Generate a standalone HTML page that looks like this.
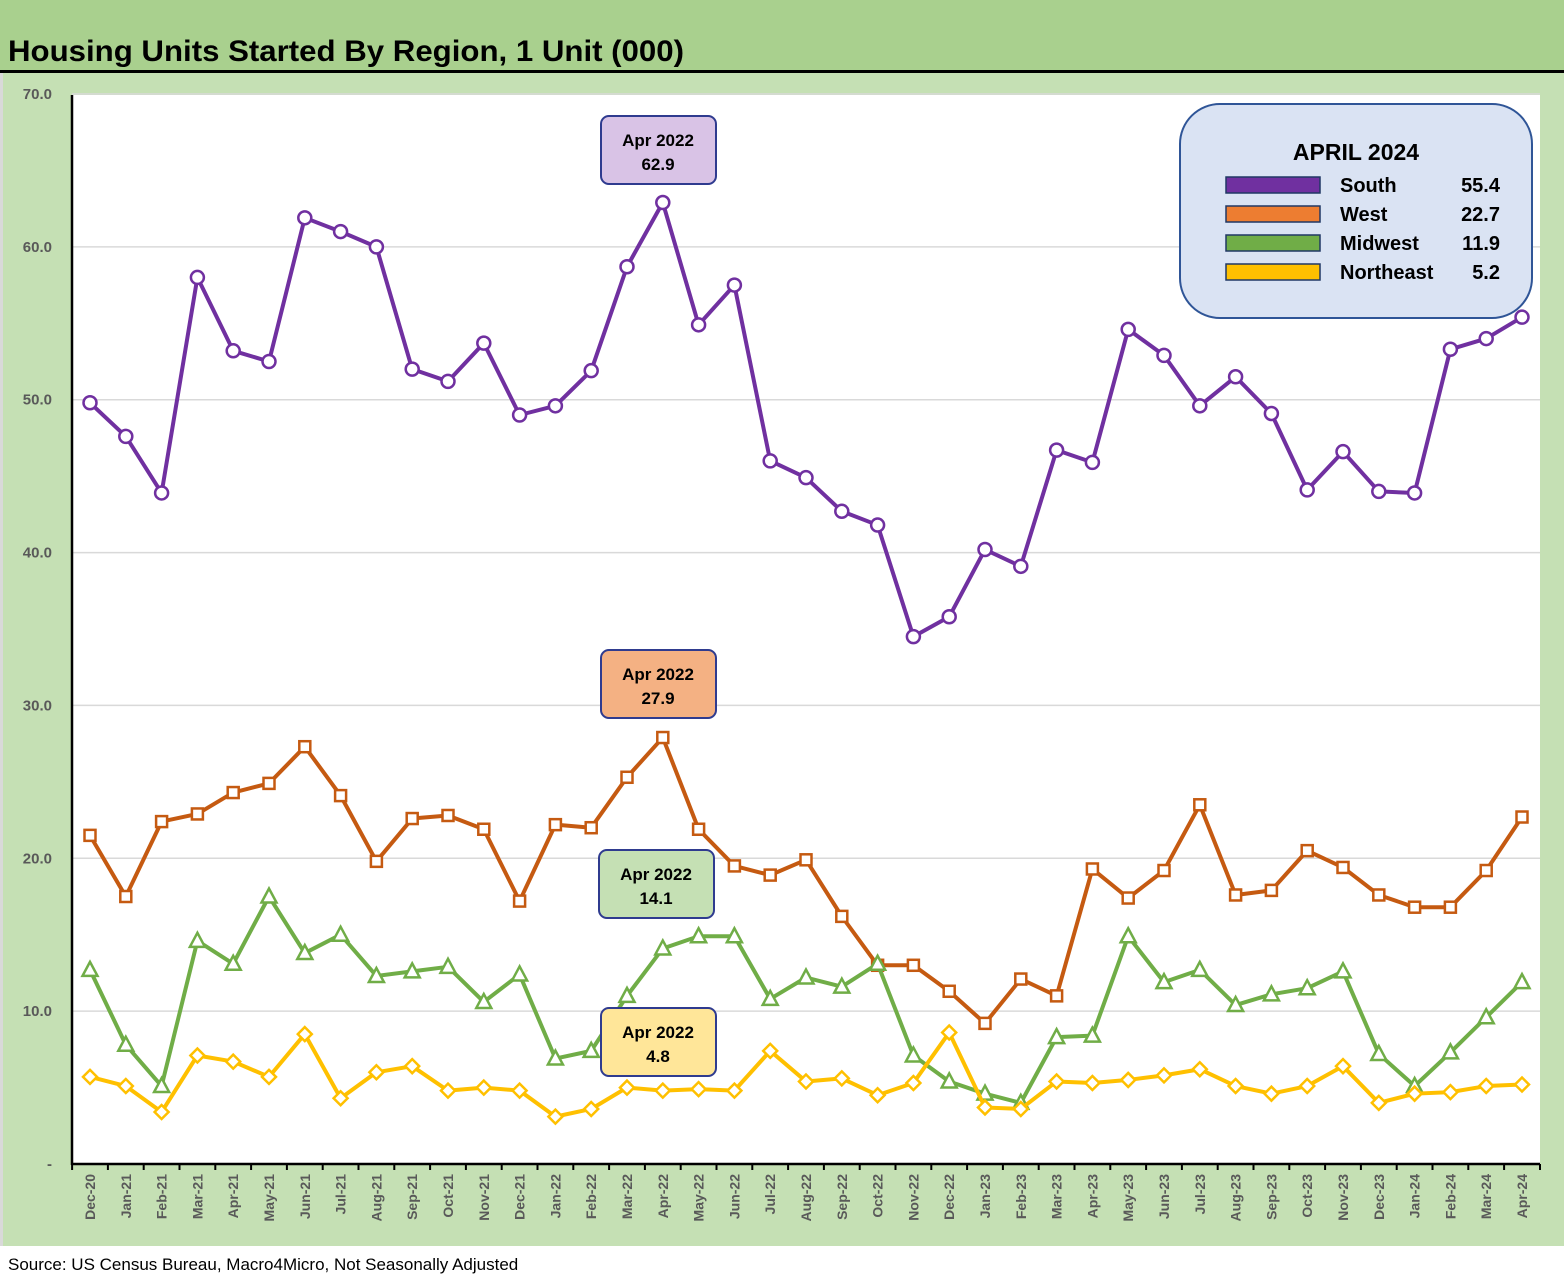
<!DOCTYPE html>
<html><head><meta charset="utf-8"><style>
body{margin:0;width:1564px;height:1280px;background:#fff;font-family:"Liberation Sans",sans-serif;overflow:hidden}
</style></head><body>
<svg width="1564" height="1280" xmlns="http://www.w3.org/2000/svg" font-family="Liberation Sans, sans-serif">
<rect x="0" y="0" width="1564" height="1246" fill="#c5e0b4"/>
<rect x="0" y="0" width="1564" height="70" fill="#a9d08e"/>
<rect x="0" y="70" width="1564" height="3" fill="#000"/>
<rect x="0" y="73" width="3" height="1173" fill="#d9d9d9"/>
<text x="8" y="61" font-size="30" font-weight="bold" fill="#000" textLength="676" lengthAdjust="spacingAndGlyphs">Housing Units Started By Region, 1 Unit (000)</text>
<rect x="72" y="95" width="1468" height="1069" fill="#fff"/>
<g id="grid"></g><g id="series"></g><g id="axes"></g>
<g>
<rect x="1180" y="104" width="352" height="214" rx="40" fill="#dae3f3" stroke="#2f5597" stroke-width="2"/>
<text x="1356" y="160" font-size="23" font-weight="bold" text-anchor="middle">APRIL 2024</text>
</g>
<g id="legend-entries"></g>
<g id="callouts"></g>
<text x="8" y="1270" font-size="17" fill="#000">Source: US Census Bureau, Macro4Micro, Not Seasonally Adjusted</text>
</svg>
<script>
const categories=["Dec-20","Jan-21","Feb-21","Mar-21","Apr-21","May-21","Jun-21","Jul-21","Aug-21","Sep-21","Oct-21","Nov-21","Dec-21","Jan-22","Feb-22","Mar-22","Apr-22","May-22","Jun-22","Jul-22","Aug-22","Sep-22","Oct-22","Nov-22","Dec-22","Jan-23","Feb-23","Mar-23","Apr-23","May-23","Jun-23","Jul-23","Aug-23","Sep-23","Oct-23","Nov-23","Dec-23","Jan-24","Feb-24","Mar-24","Apr-24"];
const south=[49.8,47.6,43.9,58.0,53.2,52.5,61.9,61.0,60.0,52.0,51.2,53.7,49.0,49.6,51.9,58.7,62.9,54.9,57.5,46.0,44.9,42.7,41.8,34.5,35.8,40.2,39.1,46.7,45.9,54.6,52.9,49.6,51.5,49.1,44.1,46.6,44.0,43.9,53.3,54.0,55.4];
const west=[21.5,17.5,22.4,22.9,24.3,24.9,27.3,24.1,19.8,22.6,22.8,21.9,17.2,22.2,22.0,25.3,27.9,21.9,19.5,18.9,19.9,16.2,13.0,13.0,11.3,9.2,12.1,11.0,19.3,17.4,19.2,23.5,17.6,17.9,20.5,19.4,17.6,16.8,16.8,19.2,22.7];
const midwest=[12.7,7.8,5.1,14.6,13.1,17.5,13.8,15.0,12.3,12.6,12.9,10.6,12.4,6.9,7.4,11.0,14.1,14.9,14.9,10.8,12.2,11.6,13.1,7.1,5.4,4.6,4.0,8.3,8.4,14.9,11.9,12.7,10.4,11.1,11.5,12.6,7.2,5.1,7.3,9.6,11.9];
const northeast=[5.7,5.1,3.4,7.1,6.7,5.7,8.5,4.3,6.0,6.4,4.8,5.0,4.8,3.1,3.6,5.0,4.8,4.9,4.8,7.4,5.4,5.6,4.5,5.3,8.6,3.7,3.6,5.4,5.3,5.5,5.8,6.2,5.1,4.6,5.1,6.4,4.0,4.6,4.7,5.1,5.2];
const yTicks=[0,10,20,30,40,50,60,70];
const yTickLabels=["-","10.0","20.0","30.0","40.0","50.0","60.0","70.0"];
const NS="http://www.w3.org/2000/svg";
const x0=90,x1=1522,yB=1164,yT=94;
const xs=i=>x0+i*(x1-x0)/(categories.length-1);
const ys=v=>yB-(v/70)*(yB-yT);
function mk(t,a,p){const e=document.createElementNS(NS,t);for(const k in a)e.setAttribute(k,a[k]);p.appendChild(e);return e;}
const grid=document.getElementById('grid'),axes=document.getElementById('axes'),ser=document.getElementById('series');
yTicks.forEach((v,i)=>{
 if(v>0){const g=mk('line',{x1:72,x2:1540,y1:ys(v),y2:ys(v),stroke:'#d9d9d9','stroke-width':1.5},grid);
 
 }
 const t=mk('text',{x:52,y:ys(v)+5,'font-size':15,'font-weight':'bold',fill:'#595959','text-anchor':'end'},axes);t.textContent=yTickLabels[i];
 
 
});
const ya=mk('line',{x1:72,x2:72,y1:95,y2:1165,stroke:'#000','stroke-width':2.5},axes);


const xa=mk('line',{x1:72,x2:1540,y1:1164,y2:1164,stroke:'#000','stroke-width':2.5},axes);


const step=(x1-x0)/(categories.length-1);
for(let i=0;i<=categories.length;i++){const xx=i==categories.length?1540:x0+(i-0.5)*step;mk('line',{x1:xx,x2:xx,y1:1164,y2:1170,stroke:'#000','stroke-width':2},axes);}
categories.forEach((c,i)=>{const t=mk('text',{x:0,y:0,'font-size':14,'font-weight':'bold',fill:'#595959','text-anchor':'end',transform:`translate(${xs(i)+5},1174) rotate(-90)`},axes);t.textContent=c;
 
 });
function draw(data,color,shape,name){
 const g=mk('g',{},ser);
 
 
 mk('polyline',{points:data.map((v,i)=>xs(i)+','+ys(v)).join(' '),fill:'none',stroke:color,'stroke-width':4,'stroke-linejoin':'round'},g);
 data.forEach((v,i)=>{const x=xs(i),y=ys(v);let m;
  if(shape=='c')m=mk('circle',{cx:x,cy:y,r:6.5},g);
  else if(shape=='s')m=mk('rect',{x:x-5.5,y:y-5.5,width:11,height:11},g);
  else if(shape=='t')m=mk('polygon',{points:`${x},${y-8} ${x-7.5},${y+6} ${x+7.5},${y+6}`},g);
  else m=mk('polygon',{points:`${x},${y-7} ${x+7},${y} ${x},${y+7} ${x-7},${y}`},g);
  m.setAttribute('fill','#fff');m.setAttribute('stroke',color);m.setAttribute('stroke-width',2.5);
  
  });
}
draw(south,'#7030a0','c','south');
draw(west,'#c55a11','s','west');
draw(midwest,'#70ad47','t','midwest');
draw(northeast,'#ffc000','d','northeast');
const le=document.getElementById('legend-entries');
const legNames=["South","West","Midwest","Northeast"],legCols=["#7030a0","#ed7d31","#70ad47","#ffc000"],legVals=[south,west,midwest,northeast];
legNames.forEach((n,i)=>{const y=185+i*29;
 const g=mk('g',{},le);
 
 
 mk('rect',{x:1226,y:y-8,width:94,height:16,fill:legCols[i],stroke:'#203864','stroke-width':1.5},g);
 const t=mk('text',{x:1340,y:y+7,'font-size':20,'font-weight':'bold'},g);t.textContent=n;
 const v=mk('text',{x:1500,y:y+7,'font-size':20,'font-weight':'bold','text-anchor':'end'},g);v.textContent=legVals[i][legVals[i].length-1].toFixed(1);
});
const co=document.getElementById('callouts');
const idx=16;
[[south,'#d9c3e6',116],[west,'#f4b183',650],[midwest,'#c5e0b4',850],[northeast,'#ffe699',1008]].forEach((c,k)=>{
 const g=mk('g',{},co);
 
 
 const cx=k==2?656:658;
 mk('rect',{x:cx-57,y:c[2],width:115,height:68,rx:8,fill:c[1],stroke:'#2f3b8f','stroke-width':2},g);
 const a=mk('text',{x:cx,y:c[2]+30,'font-size':17,'font-weight':'bold','text-anchor':'middle'},g);a.textContent='Apr 2022';
 const b=mk('text',{x:cx,y:c[2]+54,'font-size':17,'font-weight':'bold','text-anchor':'middle'},g);b.textContent=c[0][idx].toFixed(1);
});
</script>
</body></html>
